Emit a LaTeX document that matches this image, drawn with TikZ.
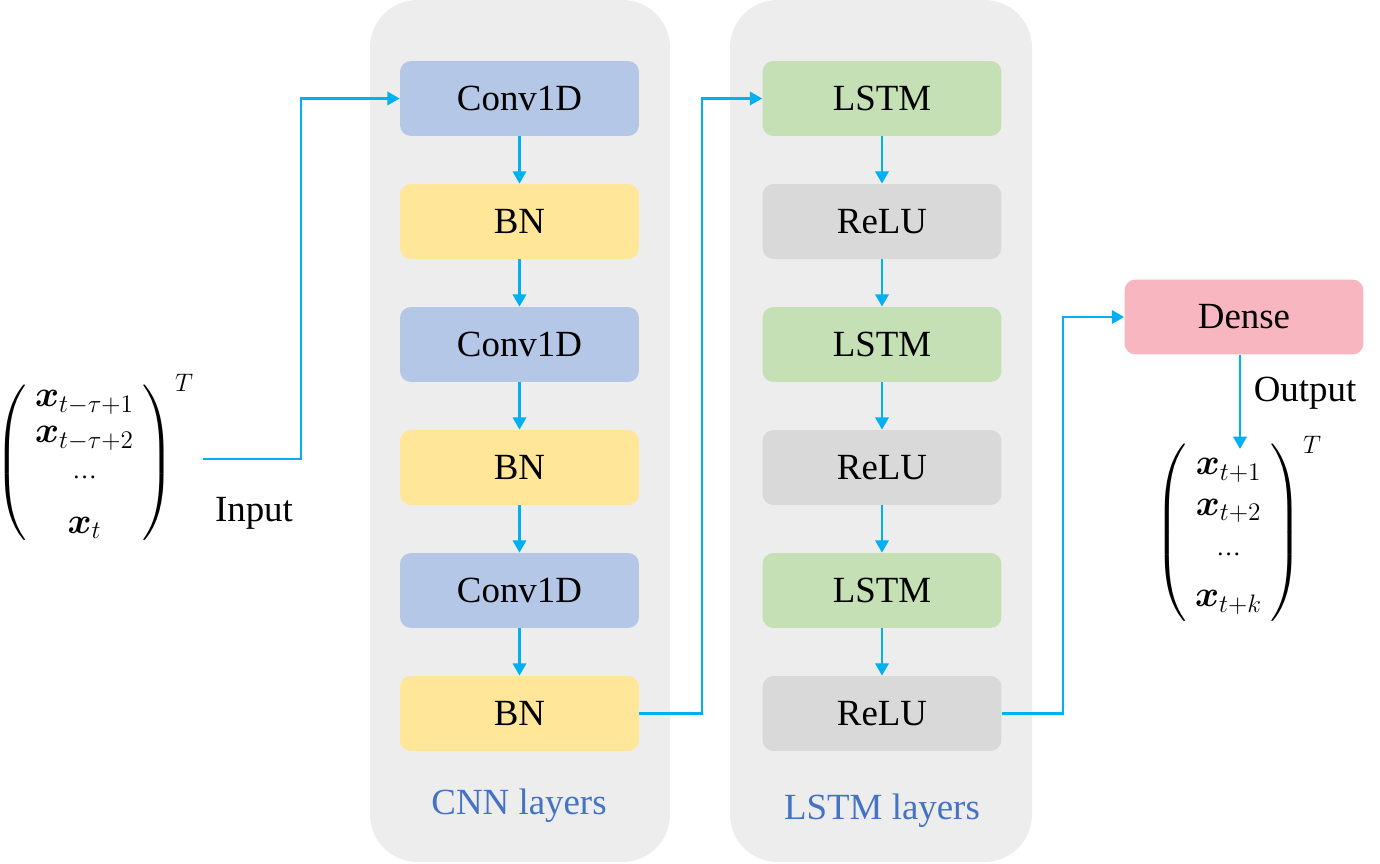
\documentclass[tikz,border=0pt]{standalone}
\usepackage{fontspec}
\setmainfont{Liberation Serif}
\usepackage{amsmath, amssymb}
\usetikzlibrary{arrows.meta}

\definecolor{panelgray}{HTML}{EDEDED}
\definecolor{convblue}{HTML}{B4C7E7}
\definecolor{bnyellow}{HTML}{FFE699}
\definecolor{lstmgreen}{HTML}{C5E0B4}
\definecolor{relugray}{HTML}{D9D9D9}
\definecolor{densepink}{HTML}{F8B7C0}
\definecolor{flowblue}{HTML}{00B0F0}
\definecolor{titleblue}{HTML}{4472C4}

\newcommand{\smalldots}{\text{\fontsize{14}{14}\selectfont\textellipsis}}

\tikzset{
	layer/.style={rounded corners=0.22cm, minimum width=4.78cm, minimum height=1.5cm, inner sep=0pt, font=\fontsize{21}{25}\selectfont},
	flow/.style={flowblue, line width=1.6pt, -{Triangle[length=7pt,width=7.5pt]}},
	panel/.style={panelgray, rounded corners=0.95cm},
	lbl/.style={font=\fontsize{21}{25}\selectfont},
}

\begin{document}
\begin{tikzpicture}[x=0.02cm, y=-0.02cm]
				\useasboundingbox (0,0) rectangle (1380,864);
				
				\coordinate (K1) at (301,0);
				\coordinate (K2) at (702,0);
				\coordinate (K3) at (1063,0);
				\coordinate (outtop) at (1240,449);
				
				\fill[panel] (370,0) rectangle (670,862);
				\fill[panel] (730,0) rectangle (1032,862);
				
				\node[layer, fill=convblue] (c1) at (519.5,98.5) {Conv1D};
				\node[layer, fill=bnyellow] (b1) at (519.5,221.5) {BN};
				\node[layer, fill=convblue] (c2) at (519.5,344.5) {Conv1D};
				\node[layer, fill=bnyellow] (b2) at (519.5,467.5) {BN};
				\node[layer, fill=convblue] (c3) at (519.5,590.5) {Conv1D};
				\node[layer, fill=bnyellow] (b3) at (519.5,713.5) {BN};
				
				\node[layer, fill=lstmgreen] (l1) at (882,98.5) {LSTM};
				\node[layer, fill=relugray] (r1) at (882,221.5) {ReLU};
				\node[layer, fill=lstmgreen] (l2) at (882,344.5) {LSTM};
				\node[layer, fill=relugray] (r2) at (882,467.5) {ReLU};
				\node[layer, fill=lstmgreen] (l3) at (882,590.5) {LSTM};
				\node[layer, fill=relugray] (r3) at (882,713.5) {ReLU};
				
				\node[layer, fill=densepink] (dense) at (1244,317) {Dense};
				
				\node[lbl, text=titleblue] (cnnlbl) at (519,806) {CNN layers};
				\node[lbl, text=titleblue] (lstmlbl) at (882,811) {LSTM layers};
				
				\node[lbl, anchor=east, inner sep=5pt] (inmat) at (203,459) {$\renewcommand{\arraystretch}{0.82}\left(\begin{array}{c}
					\boldsymbol{x}_{t-\tau+1}\\
					\boldsymbol{x}_{t-\tau+2}\\
					\smalldots\\[0.5em]
					\boldsymbol{x}_{t}
				\end{array}\right)^{T}$};
				\node[lbl] (inlbl) at (254,513) {Input};
				
				\node[lbl, inner sep=0pt] (outmat) at (1238,529) {$\renewcommand{\arraystretch}{0.92}\left(\begin{array}{c}
					\boldsymbol{x}_{t+1}\\
					\boldsymbol{x}_{t+2}\\
					\smalldots\\[0.3em]
					\boldsymbol{x}_{t+k}
				\end{array}\right)^{T}$};
				\node[lbl] (outlbl) at (1305,393) {Output};
				
				\draw[flow] (c1) -- (b1);
				\draw[flow] (b1) -- (c2);
				\draw[flow] (c2) -- (b2);
				\draw[flow] (b2) -- (c3);
				\draw[flow] (c3) -- (b3);
				
				\draw[flow] (l1) -- (r1);
				\draw[flow] (r1) -- (l2);
				\draw[flow] (l2) -- (r2);
				\draw[flow] (r2) -- (l3);
				\draw[flow] (l3) -- (r3);
				
				\draw[flow] (inmat.east) -| (K1 |- c1.west) -- (c1.west);
				\draw[flow] (b3.east) -| (K2 |- l1.west) -- (l1.west);
				\draw[flow] (r3.east) -| (K3 |- dense.west) -- (dense.west);
				\draw[flow] (outtop |- dense.south) -- (outtop);
			\end{tikzpicture}
\end{document}
